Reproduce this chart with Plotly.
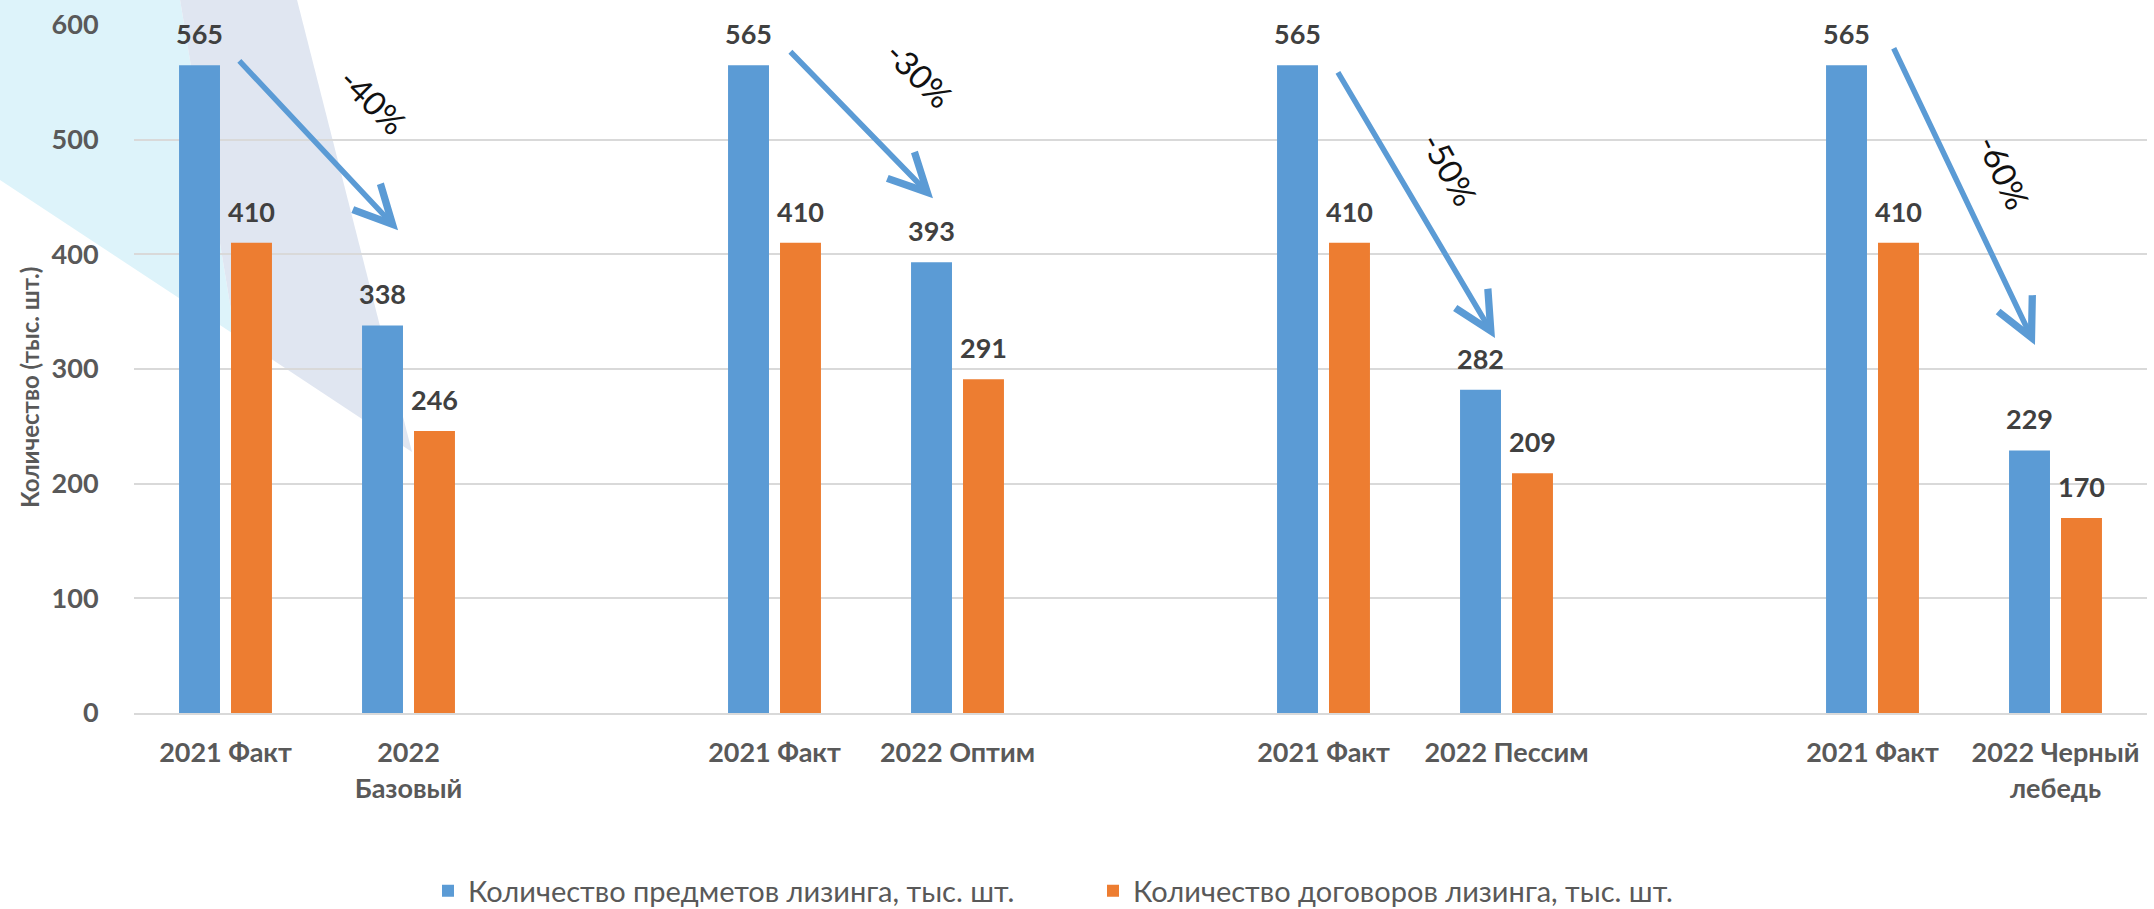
import plotly.graph_objects as go

# ---- data ----
categories = ["2021 Факт", "2022<br>Базовый", "", "2021 Факт", "2022 Оптим", "",
              "2021 Факт", "2022 Пессим", "", "2021 Факт", "2022 Черный<br>лебедь"]
items = [565, 338, None, 565, 393, None, 565, 282, None, 565, 229]      # предметы лизинга
contracts = [410, 246, None, 410, 291, None, 410, 209, None, 410, 170]  # договоры лизинга
series_names = ["Количество предметов лизинга, тыс. шт.", "Количество договоров лизинга, тыс. шт."]
change_labels = ["-40%", "-30%", "-50%", "-60%"]
y_ticks = [0, 100, 200, 300, 400, 500, 600]
y_title = "Количество (тыс. шт.)"

# arrow decorations: (tail_x, tail_y, head_x, head_y, label_x, label_y, label_angle)
arrows = [
    (0.068, 570, 0.943, 421, 0.81, 534, 45),
    (3.079, 578, 3.866, 449, 3.79, 557, 45),
    (6.074, 560, 6.937, 327, 6.69, 474, 61),
    (9.112, 581, 9.888, 321, 9.72, 472, 65),
]

BLUE = "#5B9BD5"
ORANGE = "#ED7D31"
FONT = "Lato"

W, H = 2154, 909
L, R, T, B = 134, 7, 25, 196
PW, PH = W - L - R, H - T - B

def px2paper(px, py):
    return (px - L) / PW, (T + PH - py) / PH

xpos = list(range(len(categories)))

fig = go.Figure()
fig.add_trace(go.Bar(x=xpos, y=items, name=series_names[0], marker_color=BLUE,
                     marker_line_width=0))
fig.add_trace(go.Bar(x=xpos, y=contracts, name=series_names[1], marker_color=ORANGE,
                     marker_line_width=0))

annotations = []
off = 0.142
for i, (a, b) in enumerate(zip(items, contracts)):
    for v, dx in ((a, -off), (b, off)):
        if v is None:
            continue
        annotations.append(dict(x=i + dx, y=v, xref="x", yref="y", text=str(v),
                                showarrow=False, yanchor="bottom", yshift=13,
                                font=dict(family=FONT, size=27, color="#404040", weight="bold")))

for (tx, ty, hx, hy, lx, ly, ang), lab in zip(arrows, change_labels):
    annotations.append(dict(x=hx, y=hy, ax=tx, ay=ty, xref="x", yref="y", axref="x", ayref="y",
                            text="", showarrow=True, arrowhead=5, arrowsize=1.35, arrowwidth=5.5,
                            arrowcolor=BLUE, standoff=0, startstandoff=0))
    annotations.append(dict(x=lx, y=ly, xref="x", yref="y", text=lab, showarrow=False,
                            textangle=ang, font=dict(family=FONT, size=33, color="#111111")))

# y axis title as annotation (positioned like the original)
tx_, ty_ = px2paper(30, 388)
annotations.append(dict(x=tx_, y=ty_, xref="paper", yref="paper", text=y_title, textangle=-90,
                        showarrow=False, xanchor="center", yanchor="middle",
                        font=dict(family=FONT, size=24, color="#595959", weight="bold")))

# decorative background shapes (top-left)
def poly(pts):
    s = ""
    for k, (px, py) in enumerate(pts):
        x, y = px2paper(px, py)
        s += ("M" if k == 0 else "L") + f"{x:.4f},{y:.4f} "
    return s + "Z"

shapes = [
    dict(type="path", xref="paper", yref="paper", layer="below",
         path=poly([(0, 0), (180, 0), (235, 335), (0, 180)]),
         fillcolor="#DDF3FA", line=dict(width=0)),
    dict(type="path", xref="paper", yref="paper", layer="below",
         path=poly([(180, 0), (297, 0), (412, 452), (235, 335)]),
         fillcolor="#E0E6F1", line=dict(width=0)),
]

lx_, ly_ = px2paper(428, 891)
fig.update_layout(
    width=W, height=H,
    margin=dict(l=L, r=R, t=T, b=B, autoexpand=False),
    paper_bgcolor="white", plot_bgcolor="rgba(0,0,0,0)",
    barmode="group", bargap=0.432, bargroupgap=0.212,
    annotations=annotations, shapes=shapes,
    showlegend=True,
    legend=dict(orientation="h", x=lx_, xanchor="left", y=ly_, yanchor="middle",
                font=dict(family=FONT, size=29, color="#595959"),
                entrywidth=620, entrywidthmode="pixels",
                bgcolor="rgba(0,0,0,0)", itemsizing="constant"),
)
fig.update_xaxes(range=[-0.5, len(categories) - 0.5], tickmode="array", tickvals=xpos,
                 ticktext=categories, showgrid=False, zeroline=False, automargin=False,
                 showline=True, linecolor="#D9D9D9", linewidth=2,
                 ticks="outside", ticklen=15, tickcolor="rgba(0,0,0,0)",
                 tickfont=dict(family=FONT, size=27, color="#595959", weight="bold"))
fig.update_yaxes(range=[0, 600], tickmode="array", tickvals=y_ticks, automargin=False,
                 showgrid=True, gridcolor="#D9D9D9", gridwidth=2, zeroline=False,
                 ticks="outside", ticklen=29, tickcolor="rgba(0,0,0,0)",
                 tickfont=dict(family=FONT, size=27, color="#595959", weight="bold"))

fig.write_html("out.html", config={"displayModeBar": False},
               post_script="document.body.style.margin='0px';document.body.style.overflow='hidden';")
